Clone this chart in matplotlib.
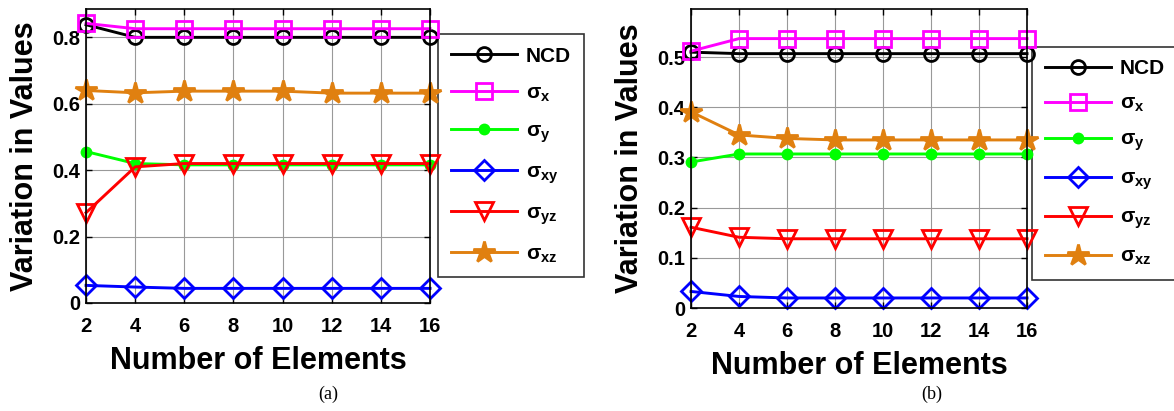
import matplotlib.pyplot as plt
from matplotlib.ticker import FuncFormatter

plt.rcParams['font.family'] = ['Liberation Sans', 'DejaVu Sans']
plt.rcParams['mathtext.fontset'] = 'custom'
plt.rcParams['mathtext.rm'] = 'Liberation Sans:bold'
plt.rcParams['mathtext.bf'] = 'Liberation Sans:bold'
plt.rcParams['mathtext.it'] = 'Liberation Sans:bold'

elements = [2, 4, 6, 8, 10, 12, 14, 16]
labels = ['NCD', r'$\sigma_{x}$', r'$\sigma_{y}$', r'$\sigma_{xy}$', r'$\sigma_{yz}$', r'$\sigma_{xz}$']

# panel (a)
ncd_a = [0.838, 0.800, 0.800, 0.800, 0.800, 0.800, 0.800, 0.800]
sx_a = [0.842, 0.826, 0.826, 0.826, 0.826, 0.826, 0.826, 0.826]
sy_a = [0.456, 0.420, 0.416, 0.416, 0.416, 0.416, 0.416, 0.416]
sxy_a = [0.053, 0.048, 0.044, 0.044, 0.044, 0.044, 0.044, 0.044]
syz_a = [0.272, 0.410, 0.420, 0.420, 0.420, 0.420, 0.420, 0.420]
sxz_a = [0.640, 0.633, 0.638, 0.638, 0.638, 0.632, 0.632, 0.632]

# panel (b)
ncd_b = [0.510, 0.507, 0.507, 0.507, 0.507, 0.507, 0.507, 0.507]
sx_b = [0.512, 0.537, 0.537, 0.537, 0.537, 0.537, 0.537, 0.537]
sy_b = [0.291, 0.307, 0.307, 0.307, 0.307, 0.307, 0.307, 0.307]
sxy_b = [0.033, 0.023, 0.020, 0.020, 0.020, 0.020, 0.020, 0.020]
syz_b = [0.161, 0.141, 0.138, 0.138, 0.138, 0.138, 0.138, 0.138]
sxz_b = [0.391, 0.345, 0.338, 0.335, 0.335, 0.335, 0.335, 0.335]

colors = ['black', '#ff00ff', '#00ff00', '#0000ff', '#ff0000', '#e08010']
markers = ['o', 's', '.', 'D', 'v', '*']
msizes = [10, 11, 13, 10, 13, 16]
mfills = ['none', 'none', 'full', 'none', 'none', 'full']

fig = plt.figure(figsize=(11.74, 4.11), dpi=100)
ax_a = fig.add_axes([0.0733, 0.2628, 0.293, 0.715])
ax_b = fig.add_axes([0.5886, 0.2506, 0.2862, 0.7275])


def draw(ax, series, ylim, yticks, leg_anchor, spacing):
    lines = []
    for vals, c, m, ms, mf, lab in zip(series, colors, markers, msizes, mfills, labels):
        ln, = ax.plot(elements, vals, color=c, marker=m, markersize=ms, fillstyle=mf,
                      markeredgewidth=2, linewidth=2.1, label=lab, clip_on=False)
        lines.append(ln)
    ax.set_xlim(2, 16)
    ax.set_ylim(*ylim)
    ax.set_xticks(elements)
    ax.set_yticks(yticks)
    ax.yaxis.set_major_formatter(FuncFormatter(lambda v, p: '0' if v == 0 else ('%g' % v)))
    ax.grid(True, color='#999999', linewidth=0.8)
    ax.tick_params(direction='in', top=True, right=True, length=4, width=1)
    ax.tick_params(axis='x', pad=10)
    ax.tick_params(axis='y', pad=4)
    for lab in ax.get_xticklabels() + ax.get_yticklabels():
        lab.set_fontsize(14.5)
        lab.set_fontweight('bold')
    for sp in ax.spines.values():
        sp.set_linewidth(1.2)
    ax.set_xlabel('Number of Elements', fontsize=22, fontweight='bold', labelpad=7)
    ax.set_ylabel('Variation in Values', fontsize=22, fontweight='bold', labelpad=9)
    leg = fig.legend(handles=lines, loc='upper left', bbox_to_anchor=leg_anchor,
                     prop={'weight': 'bold', 'size': 15}, frameon=True,
                     fancybox=False, edgecolor='black', handlelength=3.17,
                     labelspacing=spacing, borderpad=0.6, handletextpad=0.45,
                     borderaxespad=0)
    leg.get_frame().set_linewidth(1.2)
    leg.set_zorder(-1)  # markers at x=16 sit over the legend edge


draw(ax_a, [ncd_a, sx_a, sy_a, sxy_a, syz_a, sxz_a], (0, 0.885), [0, 0.2, 0.4, 0.6, 0.8],
     (438 / 1174, 1 - 34 / 411), 0.85)
draw(ax_b, [ncd_b, sx_b, sy_b, sxy_b, syz_b, sxz_b], (0, 0.596), [0, 0.1, 0.2, 0.3, 0.4, 0.5],
     (1032 / 1174, 1 - 47 / 411), 0.75)

fig.text(328 / 1174, 1 - 394 / 411, '(a)', ha='center', va='center', fontsize=13,
         family=['Liberation Serif'])
fig.text(932 / 1174, 1 - 394 / 411, '(b)', ha='center', va='center', fontsize=13,
         family=['Liberation Serif'])

plt.savefig('out.png', dpi=100)
